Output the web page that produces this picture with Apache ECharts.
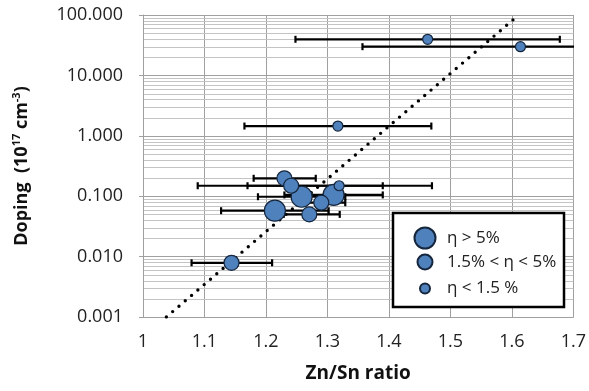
<!DOCTYPE html>
<html>
<head>
<meta charset="utf-8">
<script src="https://cdn.jsdelivr.net/npm/echarts@6/dist/echarts.min.js"></script>
<style>
  html, body { margin: 0; padding: 0; background: #fff; }
  #chart { width: 589px; height: 391px; }
</style>
</head>
<body>
<div id="chart"></div>
<script>
// 数据
const zn = [1.463, 1.614, 1.317, 1.230, 1.241, 1.319, 1.258, 1.310, 1.290, 1.2145, 1.2705, 1.144]
const doping = [39.6, 29.9, 1.45, 0.198, 0.149, 0.149, 0.098, 0.105, 0.078, 0.0575, 0.050, 0.0079]
const errLo = [1.248, 1.357, 1.165, 1.180, 1.089, 1.170, 1.187, 1.230, 1.251, 1.127, 1.229, 1.079]
const errHi = [1.678, 1.871, 1.469, 1.281, 1.390, 1.470, 1.329, 1.390, 1.329, 1.302, 1.320, 1.210]
// 0 = η > 5%, 1 = 1.5% < η < 5%, 2 = η < 1.5 %
const effClass = [2, 2, 2, 1, 1, 2, 0, 0, 1, 0, 1, 1]
const classNames = ['η > 5%', '1.5% < η < 5%', 'η < 1.5 %']
const trendX = [1.038, 1.611]
const trendY = [0.001, 100]
const xTicks = [1, 1.1, 1.2, 1.3, 1.4, 1.5, 1.6, 1.7]
const yDecades = [0.001, 0.01, 0.1, 1, 10, 100]

const FONT = 'Open Sans'
const BLUE = '#4f81bd'
const symbolSizes = [21, 15, 10]
const legendY = [237, 261, 285]

// log minor grid lines (2..9 x 10^k)
const minorLines = []
yDecades.slice(0, -1).forEach(d => {
  for (let m = 2; m <= 9; m++) minorLines.push([1, d * m])
})

const chart = echarts.init(document.getElementById('chart'))

const scatterSeries = classNames.map((name, c) => ({
  name,
  type: 'scatter',
  z: 6,
  symbol: 'circle',
  symbolSize: symbolSizes[c],
  itemStyle: { color: BLUE, borderColor: '#15263d', borderWidth: 1.2, opacity: 1 },
  data: zn.map((x, i) => [x, doping[i]]).filter((p, i) => effClass[i] === c)
}))

const legends = classNames.map((name, c) => ({
  data: [name],
  left: 424 - symbolSizes[c] / 2,
  top: legendY[c] - symbolSizes[c] / 2,
  padding: 0,
  itemWidth: symbolSizes[c],
  itemHeight: symbolSizes[c],
  z: 10,
  selectedMode: false,
  textStyle: {
    fontFamily: FONT,
    fontSize: 17,
    color: '#222',
    padding: [0, 0, 0, 22 - symbolSizes[c] / 2 - 5]
  }
}))

const option = {
  animation: false,
  backgroundColor: '#fff',
  grid: { left: 143, right: 13, top: 15, bottom: 74 },
  xAxis: {
    type: 'value',
    min: xTicks[0],
    max: xTicks[xTicks.length - 1],
    interval: 0.1,
    name: 'Zn/Sn ratio',
    nameLocation: 'middle',
    nameGap: 47,
    nameTextStyle: { fontFamily: FONT, fontSize: 19, fontWeight: 'bold', color: '#111' },
    axisLine: { lineStyle: { color: '#a0a0a0', width: 1 } },
    axisTick: { show: false },
    axisLabel: {
      margin: 16,
      fontFamily: FONT,
      fontSize: 18,
      color: '#222',
      formatter: v => String(Math.round(v * 10) / 10)
    },
    splitLine: { show: true, lineStyle: { color: '#a0a0a0', width: 1 } }
  },
  yAxis: {
    type: 'log',
    logBase: 10,
    min: yDecades[0],
    max: yDecades[yDecades.length - 1],
    name: '{b|Doping  (10}{s|17}{b| cm}{s|-3}{b|)}',
    nameLocation: 'middle',
    nameGap: 110,
    nameTextStyle: {
      rich: {
        b: { fontFamily: FONT, fontSize: 18, fontWeight: 'bold', color: '#111', lineHeight: 22 },
        s: { fontFamily: FONT, fontSize: 11, fontWeight: 'bold', color: '#111', verticalAlign: 'top', lineHeight: 22 }
      }
    },
    axisLine: { show: true, lineStyle: { color: '#a0a0a0', width: 1 } },
    axisTick: { show: true, length: 4, lineStyle: { color: '#a0a0a0' } },
    axisLabel: {
      margin: 20,
      fontFamily: FONT,
      fontSize: 18,
      color: '#222',
      formatter: v => Number(v).toFixed(3)
    },
    splitLine: { show: true, lineStyle: { color: '#a0a0a0', width: 1 } }
  },
  legend: legends,
  graphic: [{
    type: 'rect',
    z: 8,
    shape: { x: 393, y: 213, width: 171, height: 94 },
    style: { fill: '#fff', stroke: '#000', lineWidth: 2.5 }
  }],
  series: [
    {
      // minor log grid
      type: 'custom',
      silent: true,
      z: 0,
      data: minorLines,
      encode: { x: 0, y: 1 },
      renderItem: (params, api) => {
        const cs = params.coordSys
        const y = Math.round(api.coord([1, api.value(1)])[1]) + 0.5
        return {
          type: 'line',
          shape: { x1: cs.x, y1: y, x2: cs.x + cs.width, y2: y },
          style: { stroke: '#c4c4c4', lineWidth: 1 }
        }
      }
    },
    {
      // error bars
      type: 'custom',
      silent: true,
      z: 3,
      clip: true,
      data: zn.map((x, i) => [errLo[i], errHi[i], doping[i]]),
      encode: { x: [0, 1], y: 2 },
      renderItem: (params, api) => {
        const lo = api.coord([api.value(0), api.value(2)])
        const hi = api.coord([api.value(1), api.value(2)])
        const h = 3.5
        const st = { stroke: '#000', lineWidth: 2.2 }
        return {
          type: 'group',
          children: [
            { type: 'line', shape: { x1: lo[0], y1: lo[1], x2: hi[0], y2: hi[1] }, style: st },
            { type: 'line', shape: { x1: lo[0], y1: lo[1] - h, x2: lo[0], y2: lo[1] + h }, style: st },
            { type: 'line', shape: { x1: hi[0], y1: hi[1] - h, x2: hi[0], y2: hi[1] + h }, style: st }
          ]
        }
      }
    },
    {
      // trend line
      type: 'line',
      z: 4,
      silent: true,
      symbol: 'none',
      data: trendX.map((x, i) => [x, trendY[i]]),
      lineStyle: { color: '#000', width: 3.4, type: [0, 8.3], cap: 'round' }
    },
    ...scatterSeries
  ]
}

chart.setOption(option)
</script>
</body>
</html>
